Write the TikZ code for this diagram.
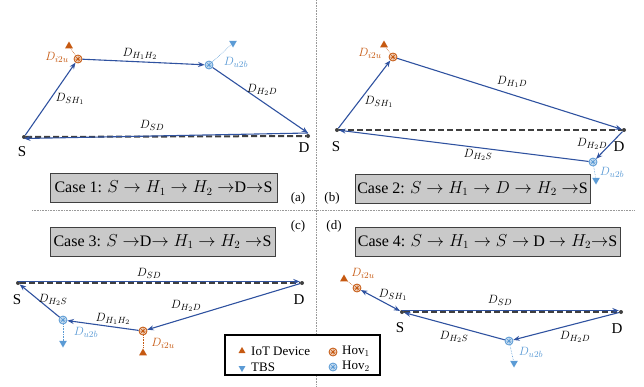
\documentclass[tikz,border=0pt]{standalone}
\usepackage{fontspec}
\setmainfont{Liberation Serif}
\usetikzlibrary{shapes.geometric,arrows.meta}
\DeclareMathSizes{12.5}{12.5}{9.5}{7.5}
\definecolor{pathblue}{HTML}{2F52A0}
\definecolor{iotorange}{HTML}{C65911}
\definecolor{tbsblue}{HTML}{5B9BD5}
\definecolor{boxgray}{HTML}{C9C9C9}
\definecolor{sdgray}{HTML}{404040}
\begin{document}
\begin{tikzpicture}[x=1pt,y=-1pt,
  route/.style={draw=pathblue, line width=1.1pt, -{Stealth[length=6.5pt,width=5pt]}},
  biroute/.style={draw=pathblue, line width=1.1pt, {Stealth[length=6.5pt,width=5pt]}-{Stealth[length=6.5pt,width=5pt]}},
  sdline/.style={draw=sdgray, line width=2pt, dash pattern=on 6pt off 3pt},
  endpt/.style={circle, fill=sdgray, inner sep=0pt, minimum size=4pt},
  hovA/.style={circle, line width=0.8pt, inner sep=0pt, minimum size=8pt, draw=iotorange, fill=iotorange!20,
    path picture={\draw[iotorange, line width=0.5pt] (path picture bounding box.south west) -- (path picture bounding box.north east) (path picture bounding box.north west) -- (path picture bounding box.south east) (path picture bounding box.west) -- (path picture bounding box.east) (path picture bounding box.north) -- (path picture bounding box.south);}},
  hovB/.style={circle, line width=0.8pt, inner sep=0pt, minimum size=8pt, draw=tbsblue, fill=tbsblue!25,
    path picture={\draw[tbsblue, line width=0.5pt] (path picture bounding box.south west) -- (path picture bounding box.north east) (path picture bounding box.north west) -- (path picture bounding box.south east) (path picture bounding box.west) -- (path picture bounding box.east) (path picture bounding box.north) -- (path picture bounding box.south);}},
  iot/.style={regular polygon, regular polygon sides=3, fill=iotorange, inner sep=0pt, minimum size=9pt},
  tbs/.style={regular polygon, regular polygon sides=3, shape border rotate=180, fill=tbsblue, inner sep=0pt, minimum size=9pt},
  link/.style={line width=0.6pt, densely dotted},
  dlab/.style={font=\fontsize{12.5}{14}\selectfont, inner sep=1pt},
  ptlab/.style={font=\fontsize{15}{17}\selectfont, inner sep=0pt},
  panlab/.style={font=\fontsize{13}{15}\selectfont, inner sep=0pt},
  casebox/.style={draw=sdgray, fill=boxgray, line width=1pt, minimum height=29pt, font=\fontsize{16}{19}\selectfont, inner sep=0pt},
  divider/.style={draw=black!40, line width=0.6pt, densely dotted}
]
\useasboundingbox (0,0) rectangle (644,386);
% dividers
\draw[divider] (316,0) -- (316,386);
\draw[divider] (32,210) -- (634,210);

% ---------------- panel (a)
\node[endpt] (Sa) at (24,137) {};
\node[endpt] (Da) at (308,136) {};
\node[hovA] (H1a) at (78,59) {};
\node[hovB] (H2a) at (209,65) {};
\node[iot] (Ia) at (69,46) {};
\node[tbs] (Ta) at (233,43) {};
\draw[link, iotorange] (H1a) -- (Ia);
\draw[link, tbsblue] (H2a) -- (Ta);
\draw[sdline] (Sa) -- (Da);
\draw[route] (Sa) -- (H1a);
\draw[route] (H1a) -- (H2a);
\draw[route] (H2a) -- ([yshift=3pt]Da.center);
\draw[route] ([yshift=3pt]Da.center) -- ([yshift=-1.5pt]Sa.center);
\node[ptlab] (SaL) at (22,152) {S};
\node[ptlab] (DaL) at (304,148) {D};
\node[dlab, text=iotorange] (iua) at (57,57) {$D_{i2u}$};
\node[dlab] (h12a) at (140,54) {$D_{H_1H_2}$};
\node[dlab, text=tbsblue] (uba) at (236,62) {$D_{u2b}$};
\node[dlab] (sh1a) at (70,99) {$D_{SH_1}$};
\node[dlab] (h2da) at (262,90) {$D_{H_2D}$};
\node[dlab] (sda) at (152,125) {$D_{SD}$};
\node[casebox, minimum width=227pt] (C1) at (163.5,188) {Case 1: $S\rightarrow H_1\rightarrow H_2\rightarrow$D$\rightarrow$S};
\node[panlab] (pa) at (298,198) {(a)};

% ---------------- panel (b)
\node[endpt] (Sb) at (337,130) {};
\node[endpt] (Db) at (624,130) {};
\node[hovA] (H1b) at (393,57) {};
\node[hovB] (H2b) at (593,162) {};
\node[iot] (Ib) at (384,45) {};
\node[tbs] (Tb) at (596,180) {};
\draw[link, iotorange] (H1b) -- (Ib);
\draw[link, tbsblue] (H2b) -- (Tb);
\draw[sdline] (Sb) -- (Db);
\draw[route] (Sb) -- (H1b);
\draw[route] (H1b) -- (Db);
\draw[route] (Db) -- (H2b);
\draw[route] (H2b) -- (Sb);
\node[ptlab] (SbL) at (336,147) {S};
\node[ptlab] (DbL) at (619,147) {D};
\node[dlab, text=iotorange] (iub) at (370,53) {$D_{i2u}$};
\node[dlab] (sh1b) at (379,102) {$D_{SH_1}$};
\node[dlab] (h1db) at (512,82) {$D_{H_1D}$};
\node[dlab] (h2db) at (592,144) {$D_{H_2D}$};
\node[dlab] (h2sb) at (478,155) {$D_{H_2S}$};
\node[dlab, text=tbsblue] (ubb) at (612,172) {$D_{u2b}$};
\node[casebox, minimum width=235pt] (C2) at (472.5,188.5) {Case 2: $S\rightarrow H_1\rightarrow D\rightarrow H_2\rightarrow$S};
\node[panlab] (pb) at (332,198) {(b)};

% ---------------- panel (c)
\node[endpt] (Sc) at (18,283) {};
\node[endpt] (Dc) at (302,283) {};
\node[hovB] (H2c) at (63,320) {};
\node[hovA] (H1c) at (143,331) {};
\node[tbs] (Tc) at (63,343) {};
\node[iot] (Ic) at (143,353) {};
\draw[link, tbsblue] (H2c) -- (Tc);
\draw[link, iotorange] (H1c) -- (Ic);
\draw[sdline] (Sc) -- (Dc);
\draw[route] ([yshift=1.5pt]Sc.center) -- ([yshift=1.5pt]Dc.west);
\draw[route] (Dc) -- (H1c);
\draw[route] (H1c) -- (H2c);
\draw[route] (H2c) -- (Sc);
\node[ptlab] (ScL) at (17,300) {S};
\node[ptlab] (DcL) at (299,300) {D};
\node[dlab] (sdc) at (149,273) {$D_{SD}$};
\node[dlab] (h2sc) at (53,300) {$D_{H_2S}$};
\node[dlab] (h12c) at (113,319) {$D_{H_1H_2}$};
\node[dlab] (h2dc) at (186,306) {$D_{H_2D}$};
\node[dlab, text=tbsblue] (ubc) at (86,332) {$D_{u2b}$};
\node[dlab, text=iotorange] (iuc) at (163,343) {$D_{i2u}$};
\node[casebox, minimum width=225pt] (C3) at (162.5,241.5) {Case 3: $S\rightarrow$D$\rightarrow H_1\rightarrow H_2\rightarrow$S};
\node[panlab] (pc) at (298,226) {(c)};

% ---------------- panel (d)
\node[endpt] (Sd) at (402,312) {};
\node[endpt] (Dd) at (621,312) {};
\node[hovA] (H1d) at (357,288) {};
\node[hovB] (H2d) at (509,341) {};
\node[iot] (Id) at (344,279) {};
\node[tbs] (Td) at (514,363) {};
\draw[link, iotorange] (H1d) -- (Id);
\draw[link, tbsblue] (H2d) -- (Td);
\draw[sdline] (Sd) -- (Dd);
\draw[biroute] (H1d) -- (Sd);
\draw[route] ([yshift=1.5pt]Sd.center) -- ([yshift=1.5pt]Dd.west);
\draw[route] (Dd) -- (H2d);
\draw[route] (H2d) -- (Sd);
\node[ptlab] (SdL) at (400,328) {S};
\node[ptlab] (DdL) at (617,329) {D};
\node[dlab, text=iotorange] (iud) at (363,273) {$D_{i2u}$};
\node[dlab] (sh1d) at (393,295) {$D_{SH_1}$};
\node[dlab] (sdd) at (500,300) {$D_{SD}$};
\node[dlab] (h2sd) at (454,337) {$D_{H_2S}$};
\node[dlab] (h2dd) at (575,337) {$D_{H_2D}$};
\node[dlab, text=tbsblue] (ubd) at (531,352) {$D_{u2b}$};
\node[casebox, minimum width=265pt] (C4) at (487.5,241.5) {Case 4: $S\rightarrow H_1\rightarrow S\rightarrow$ D $\rightarrow H_2$$\rightarrow$S};
\node[panlab] (pd) at (334,226) {(d)};

% ---------------- legend
\node[draw=black, fill=white, line width=2.2pt, minimum width=155pt, minimum height=40pt] (leg) at (302.5,355) {};
\node[iot, minimum size=8pt] (lgI) at (242,351) {};
\node[tbs, minimum size=8pt] (lgT) at (242,368) {};
\node[hovA] (lgH1) at (333,352) {};
\node[hovB] (lgH2) at (333,367) {};
\node[anchor=west, inner sep=0pt, font=\fontsize{13}{15}\selectfont] (lgIt) at (251,351) {IoT Device};
\node[anchor=west, inner sep=0pt, font=\fontsize{13}{15}\selectfont] (lgTt) at (251,367) {TBS};
\node[anchor=west, inner sep=0pt, font=\fontsize{13}{15}\selectfont] (lgH1t) at (342,351) {Hov$_1$};
\node[anchor=west, inner sep=0pt, font=\fontsize{13}{15}\selectfont] (lgH2t) at (342,366) {Hov$_2$};
\end{tikzpicture}
\end{document}
